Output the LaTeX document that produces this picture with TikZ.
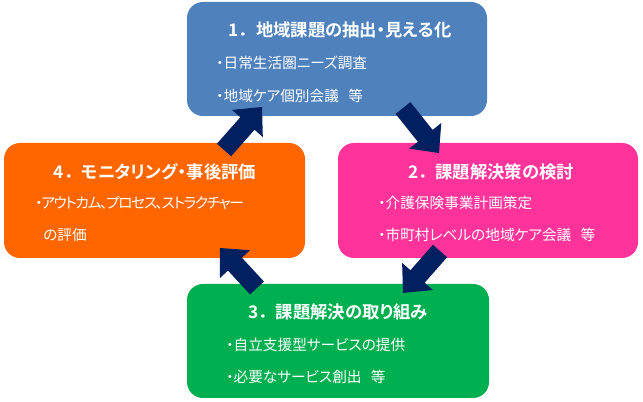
\documentclass[tikz,border=0pt]{standalone}
\usepackage{fontspec}
\newfontfamily\jp{Noto Sans CJK JP}[BoldFont={Noto Sans CJK JP Bold}]
\newfontfamily\jpp{Noto Sans CJK JP}[RawFeature=+palt,BoldFont={Noto Sans CJK JP Bold}]
\newfontfamily\jpn{Noto Sans CJK JP}[RawFeature=+palt,LetterSpace=-9]
\usetikzlibrary{calc}
\definecolor{cblue}{HTML}{4F81BD}
\definecolor{cpink}{HTML}{FF3399}
\definecolor{corange}{HTML}{FF6600}
\definecolor{cgreen}{HTML}{00B050}
\definecolor{cnavy}{HTML}{002060}
\newcommand\blkarrow[3]{%
  \coordinate (#3h) at ($(#2)!16.5pt!(#1)$);
  \fill[cnavy] ($(#1)!7.1pt!90:(#2)$) -- ($(#3h)!7.1pt!90:(#2)$) -- ($(#3h)!15.4pt!90:(#2)$)
    -- (#2) -- ($(#3h)!15.4pt!-90:(#2)$) -- ($(#3h)!7.1pt!-90:(#2)$) -- ($(#1)!7.1pt!-90:(#2)$) -- cycle;}
\newcommand\fwp{{\jp\bfseries ．}}
\newcommand\gap{\hspace{7pt}}
\begin{document}
\begin{tikzpicture}[x=0.75pt,y=-0.75pt,
  box/.style={rounded corners=12pt, inner sep=0pt, minimum width=225pt, minimum height=85.5pt},
  ttl/.style={text=white, font=\jpp\bfseries\fontsize{13}{15}\selectfont, inner sep=0pt},
  itm/.style={text=white, font=\jpp\fontsize{11}{13}\selectfont, inner sep=0pt, anchor=west}]
\useasboundingbox (0,0) rectangle (643,402);
% boxes
\node[box, fill=cblue] (b1) at (337,59) {};
\node[box, fill=cpink, minimum height=86.25pt] (b2) at (488,200.5) {};
\node[box, fill=corange, minimum width=225.75pt, minimum height=86.25pt] (b4) at (154.5,200.5) {};
\node[box, fill=cgreen, minimum width=226.5pt] (b3) at (338,341) {};
% texts box 1
\node[ttl] (t1) at (340,30) {1\fwp 地域課題の抽出・見える化};
\node[itm] (t1a) at (216,63) {・日常生活圏ニーズ調査};
\node[itm] (t1b) at (216,96) {・地域ケア個別会議\gap 等};
% texts box 2
\node[ttl] (t2) at (491,172) {2\fwp 課題解決策の検討};
\node[itm] (t2a) at (378,203) {・介護保険事業計画策定};
\node[itm] (t2b) at (378,235) {・市町村レベルの地域ケア会議\gap 等};
% texts box 4
\node[ttl] (t4) at (155,172) {4\fwp モニタリング・事後評価};
\node[itm, font=\jpn\fontsize{11}{13}\selectfont] (t4a) at (35,203) {・アウトカム、プロセス、ストラクチャー};
\node[itm] (t4b) at (43,235) {の評価};
% texts box 3
\node[ttl] (t3) at (338,312) {3\fwp 課題解決の取り組み};
\node[itm] (t3a) at (226,345) {・自立支援型サービスの提供};
\node[itm] (t3b) at (226,377) {・必要なサービス創出\gap 等};
% arrows
\coordinate (aT) at (403,108); \coordinate (aP) at (439,153);
\coordinate (bT) at (440,251); \coordinate (bP) at (403,293);
\coordinate (cT) at (257,288); \coordinate (cP) at (220,248);
\coordinate (dT) at (224,150); \coordinate (dP) at (262,107);
\blkarrow{aT}{aP}{a}
\blkarrow{bT}{bP}{b}
\blkarrow{cT}{cP}{c}
\blkarrow{dT}{dP}{d}
\end{tikzpicture}
\end{document}
